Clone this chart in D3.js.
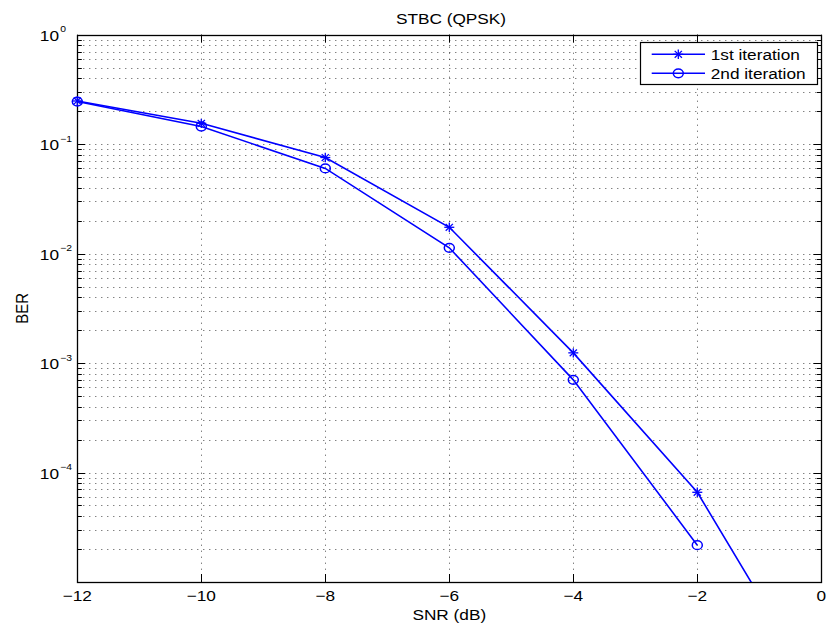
<!DOCTYPE html>
<html>
<head>
<meta charset="utf-8">
<script src="https://cdn.jsdelivr.net/npm/d3@7"></script>
<style>
  html, body { margin: 0; padding: 0; background: #fff; }
  svg { display: block; }
  text { font-family: "Liberation Sans", Arial, Helvetica, sans-serif; fill: #000; }
</style>
</head>
<body>
<svg id="chart" width="829" height="627"></svg>
<script>
// SNR sweep (dB) and measured bit error rates for two decoder iterations
const snr = [-12, -10, -8, -6, -4, -2, 0];
const berIter1 = [0.248, 0.155, 0.0755, 0.0174, 0.00124, 6.6e-5, 8.5e-7];
const berIter2 = [0.245, 0.145, 0.0600, 0.0113, 0.000703, 2.17e-5, null];
const seriesNames = ["1st iteration", "2nd iteration"];
const xTicks = [-12, -10, -8, -6, -4, -2, 0];
const yDecades = [0, -1, -2, -3, -4];

(function () {
  const svg = d3.select("#chart");
  const pL = 77.3, pR = 821.3, pT = 34.7, pB = 582;
  const S = 1.15;          // horizontal glyph stretch
  const blue = "#0000ff";

  const x = d3.scaleLinear().domain([-12, 0]).range([pL, pR]);
  const y = d3.scaleLog().domain([1e-5, 1]).range([pB, pT]);

  function label(parent, px, py, str, size, anchor, rot) {
    const g = parent.append("g")
      .attr("transform", `translate(${px},${py}) scale(${S},1)` + (rot ? " rotate(-90)" : ""));
    g.append("text").attr("x", 0).attr("y", 0)
      .attr("font-size", size).attr("text-anchor", anchor).text(str);
    return g;
  }

  // grid: dotted rows at every log step, dotted columns at x ticks
  const gridVals = [];
  for (let e = -5; e < 0; e++) for (let m = 1; m <= 9; m++) gridVals.push(m * Math.pow(10, e));
  gridVals.push(1);
  const grid = svg.append("g").attr("stroke", "#000").attr("stroke-width", 1)
    .attr("stroke-dasharray", "1,5").attr("stroke-opacity", 0.7);
  grid.selectAll("line.h").data(gridVals.filter(v => v > 1e-5 && v < 1)).join("line")
    .attr("class", "h")
    .attr("x1", pL).attr("x2", pR)
    .attr("y1", d => Math.round(y(d)) + 0.5).attr("y2", d => Math.round(y(d)) + 0.5);
  grid.selectAll("line.v").data(xTicks.slice(1, -1)).join("line")
    .attr("class", "v")
    .attr("x1", d => Math.round(x(d)) + 0.5).attr("x2", d => Math.round(x(d)) + 0.5)
    .attr("y1", pT).attr("y2", pB);

  // ticks (inward, on all four sides)
  const ticks = svg.append("g").attr("stroke", "#000").attr("stroke-width", 1);
  xTicks.forEach(t => {
    const px = Math.round(x(t)) + 0.5;
    ticks.append("line").attr("x1", px).attr("x2", px).attr("y1", pB).attr("y2", pB - 8);
    ticks.append("line").attr("x1", px).attr("x2", px).attr("y1", pT).attr("y2", pT + 8);
  });
  gridVals.filter(v => v >= 1e-5 && v <= 1).forEach(v => {
    const major = Math.abs(Math.log10(v) - Math.round(Math.log10(v))) < 1e-9;
    const len = major ? 8 : 4.5;
    const py = Math.round(y(v)) + 0.5;
    ticks.append("line").attr("x1", pL).attr("x2", pL + len).attr("y1", py).attr("y2", py);
    ticks.append("line").attr("x1", pR).attr("x2", pR - len).attr("y1", py).attr("y2", py);
  });

  // axes box
  svg.append("rect").attr("x", Math.round(pL) + 0.5).attr("y", Math.round(pT) + 0.5)
    .attr("width", Math.round(pR) - Math.round(pL)).attr("height", Math.round(pB) - Math.round(pT))
    .attr("fill", "none").attr("stroke", "#000").attr("stroke-width", 1.3);

  // tick labels
  xTicks.forEach(t => {
    label(svg, x(t), 601, t < 0 ? "\u2212" + Math.abs(t) : String(t), 15, "middle");
  });
  yDecades.forEach(e => {
    const py = y(Math.pow(10, e));
    label(svg, 59, py + 6.3, "10", 15, "end");
    label(svg, 60.3, py - 2.3, e < 0 ? "\u2212" + Math.abs(e) : String(e), 9, "start");
  });

  // titles
  label(svg, 451, 24, "STBC (QPSK)", 15, "middle");
  label(svg, (pL + pR) / 2, 620, "SNR (dB)", 15, "middle");
  label(svg, 28.3, (pT + pB) / 2, "BER", 15, "middle", true);

  // data lines, clipped to the axes
  svg.append("clipPath").attr("id", "plotClip").append("rect")
    .attr("x", pL).attr("y", pT).attr("width", pR - pL).attr("height", pB - pT);

  const lineGen = d3.line()
    .defined(d => d[1] !== null && d[1] > 0)
    .x(d => x(d[0])).y(d => y(d[1]));

  const series = [berIter1, berIter2].map((vals, i) => ({
    name: seriesNames[i],
    marker: i === 0 ? "star" : "circle",
    pts: snr.map((s, j) => [s, vals[j]])
  }));

  function drawMarker(g, type, cx, cy) {
    if (type === "star") {
      const m = g.append("g").attr("stroke", blue).attr("stroke-width", 1.3)
        .attr("transform", `translate(${cx},${cy})`);
      m.append("line").attr("x1", -5).attr("x2", 5).attr("y1", 0).attr("y2", 0);
      m.append("line").attr("x1", 0).attr("x2", 0).attr("y1", -4.7).attr("y2", 4.7);
      m.append("line").attr("x1", -3.6).attr("x2", 3.6).attr("y1", -3.4).attr("y2", 3.4);
      m.append("line").attr("x1", -3.6).attr("x2", 3.6).attr("y1", 3.4).attr("y2", -3.4);
    } else {
      g.append("ellipse").attr("cx", cx).attr("cy", cy).attr("rx", 5).attr("ry", 4.4)
        .attr("fill", "none").attr("stroke", blue).attr("stroke-width", 1.5);
    }
  }

  series.forEach(s => {
    svg.append("path").datum(s.pts).attr("clip-path", "url(#plotClip)")
      .attr("d", lineGen).attr("fill", "none").attr("stroke", blue).attr("stroke-width", 1.6);
    const mg = svg.append("g");
    s.pts.filter(d => d[1] !== null && d[1] >= 1e-5)
      .forEach(d => drawMarker(mg, s.marker, x(d[0]), y(d[1])));
  });

  // legend
  const lg = svg.append("g");
  lg.append("rect").attr("x", 640.5).attr("y", 42.5).attr("width", 177).attr("height", 42)
    .attr("fill", "#fff").attr("stroke", "#000").attr("stroke-width", 1.2);
  series.forEach((s, i) => {
    const ry = 54.3 + i * 19;
    lg.append("line").attr("x1", 651.7).attr("x2", 705).attr("y1", ry).attr("y2", ry)
      .attr("stroke", blue).attr("stroke-width", 1.6);
    drawMarker(lg, s.marker, 678.3, ry);
    label(lg, 710.7, ry + 5.7, s.name, 15, "start");
  });
})();
</script>
</body>
</html>
